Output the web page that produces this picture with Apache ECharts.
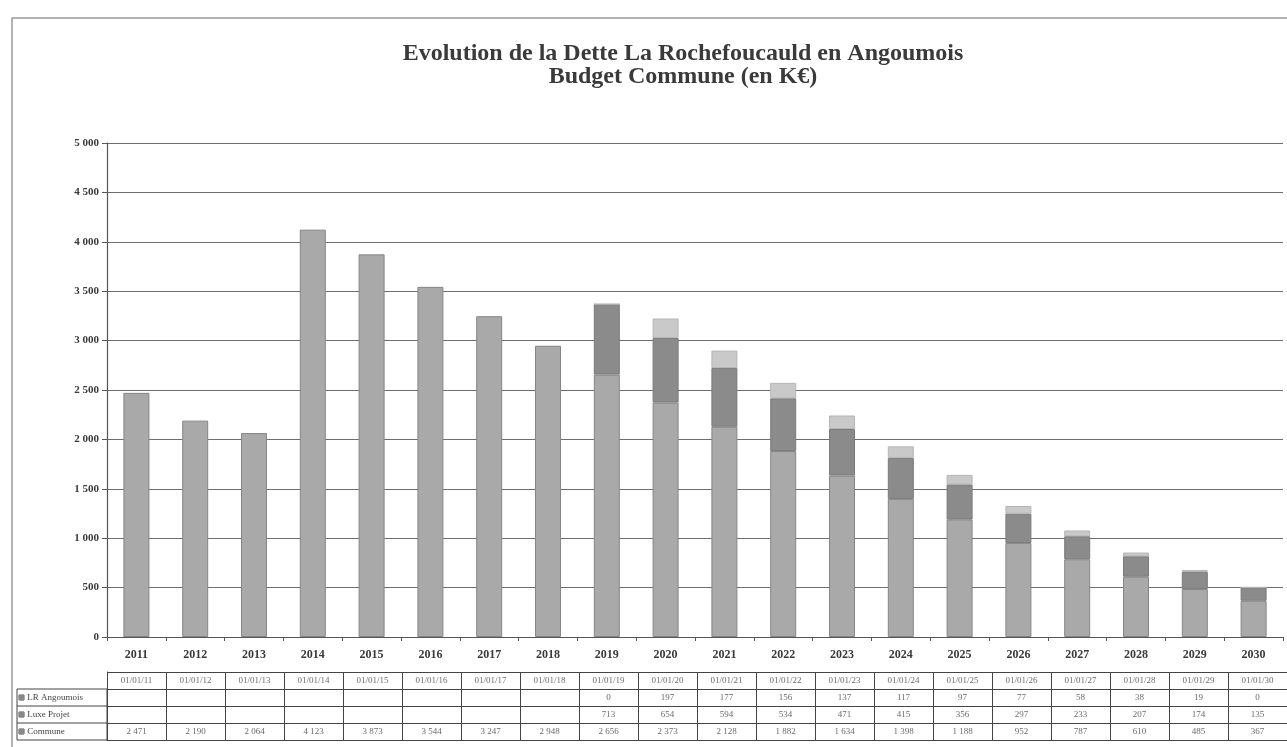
<!DOCTYPE html>
<html>
<head>
<meta charset="utf-8">
<script src="https://cdn.jsdelivr.net/npm/echarts@6/dist/echarts.min.js"></script>
<style>
html,body{margin:0;padding:0;background:#fff;}
#c{width:1287px;height:747px;}
</style>
</head>
<body>
<div id="c"></div>
<script>
const years = ['2011','2012','2013','2014','2015','2016','2017','2018','2019','2020','2021','2022','2023','2024','2025','2026','2027','2028','2029','2030'];
const dates = ['01/01/11','01/01/12','01/01/13','01/01/14','01/01/15','01/01/16','01/01/17','01/01/18','01/01/19','01/01/20','01/01/21','01/01/22','01/01/23','01/01/24','01/01/25','01/01/26','01/01/27','01/01/28','01/01/29','01/01/30'];
const commune = [2471, 2190, 2064, 4123, 3873, 3544, 3247, 2948, 2656, 2373, 2128, 1882, 1634, 1398, 1188, 952, 787, 610, 485, 367];
const luxeProjet = [null, null, null, null, null, null, null, null, 713, 654, 594, 534, 471, 415, 356, 297, 233, 207, 174, 135];
const lrAngoumois = [null, null, null, null, null, null, null, null, 0, 197, 177, 156, 137, 117, 97, 77, 58, 38, 19, 0];
const yTicks = [0, 500, 1000, 1500, 2000, 2500, 3000, 3500, 4000, 4500, 5000];
const tableRows = ['Commune', 'Luxe Projet', 'LR Angoumois', 'date'];

const colCommune = '#a9a9a9';
const colLuxe = '#8b8b8b';
const colLR = '#c9c9c9';

function fmt(v){
  if (v === null || v === undefined) return '';
  return String(v).replace(/\B(?=(\d{3})+(?!\d))/g, ' ');
}

const tableData = [];
years.forEach((y, i) => {
  tableData.push([i, 'date', dates[i]]);
  tableData.push([i, 'LR Angoumois', fmt(lrAngoumois[i])]);
  tableData.push([i, 'Luxe Projet', fmt(luxeProjet[i])]);
  tableData.push([i, 'Commune', fmt(commune[i])]);
});

const serif = 'Liberation Serif';
const chart = echarts.init(document.getElementById('c'));

chart.setOption({
  backgroundColor: '#ffffff',
  animation: false,
  title: {
    text: 'Evolution de la Dette La Rochefoucauld en Angoumois\nBudget Commune (en K€)',
    left: 678, top: 37, textAlign: 'center',
    textStyle: {fontFamily: serif, fontWeight: 'bold', fontSize: 24, lineHeight: 23, color: '#3a3a3a'}
  },
  grid: [
    {left: 107, right: 4, top: 143, bottom: 110, containLabel: false},
    {left: 107, right: 0, top: 672, bottom: 7, containLabel: false}
  ],
  xAxis: [
    {
      type: 'category', gridIndex: 0, data: years,
      axisLine: {show: true, lineStyle: {color: '#555', width: 1.2}},
      axisTick: {show: true, length: 4, alignWithLabel: false, lineStyle: {color: '#555'}},
      axisLabel: {fontFamily: serif, fontWeight: 'bold', fontSize: 12, color: '#3a3a3a', margin: 12}
    },
    {
      type: 'category', gridIndex: 1, data: years,
      axisLine: {show: true, lineStyle: {color: '#444'}},
      axisTick: {show: false},
      axisLabel: {show: false},
      splitLine: {show: true, interval: 0, lineStyle: {color: '#444', width: 1}}
    }
  ],
  yAxis: [
    {
      type: 'value', gridIndex: 0, min: 0, max: 5000, interval: 500,
      axisLine: {show: true, lineStyle: {color: '#555', width: 1.2}},
      axisTick: {show: true, length: 5, lineStyle: {color: '#555'}},
      axisLabel: {fontFamily: serif, fontWeight: 'bold', fontSize: 11, color: '#3a3a3a', margin: 8,
        formatter: v => yTicks.indexOf(v) >= 0 ? fmt(v) : ''},
      splitLine: {show: true, lineStyle: {color: '#6e6e6e', width: 1.2}}
    },
    {
      type: 'category', gridIndex: 1, data: tableRows,
      axisLine: {show: true, lineStyle: {color: '#444'}},
      axisTick: {show: false},
      splitLine: {show: true, interval: 0, lineStyle: {color: '#444', width: 1}},
      axisLabel: {
        margin: 88, align: 'left',
        formatter: v => v === 'date' ? '' : '{k|} {t|' + v + '}',
        rich: {
          k: {width: 5, height: 5, backgroundColor: '#888', borderColor: '#555', borderWidth: 0.5},
          t: {fontFamily: serif, fontSize: 9, color: '#444'}
        }
      }
    }
  ],
  graphic: [
    {type: 'rect', shape: {x: 12, y: 18, width: 1290, height: 740}, style: {fill: 'none', stroke: '#9a9a9a', lineWidth: 1.5}, silent: true, z: -1},
    {type: 'rect', shape: {x: 17, y: 689, width: 90, height: 51}, style: {fill: 'none', stroke: '#444', lineWidth: 1}, silent: true},
    {type: 'line', shape: {x1: 17, y1: 706, x2: 107, y2: 706}, style: {stroke: '#444', lineWidth: 1}, silent: true},
    {type: 'line', shape: {x1: 17, y1: 723, x2: 107, y2: 723}, style: {stroke: '#444', lineWidth: 1}, silent: true}
  ],
  series: [
    {
      name: 'Commune', type: 'bar', stack: 'dette', xAxisIndex: 0, yAxisIndex: 0,
      data: commune, barWidth: 26,
      itemStyle: {color: colCommune, borderColor: '#858585', borderWidth: 1}
    },
    {
      name: 'Luxe Projet', type: 'bar', stack: 'dette', xAxisIndex: 0, yAxisIndex: 0,
      data: luxeProjet, barWidth: 26,
      itemStyle: {color: colLuxe, borderColor: '#7a7a7a', borderWidth: 1}
    },
    {
      name: 'LR Angoumois', type: 'bar', stack: 'dette', xAxisIndex: 0, yAxisIndex: 0,
      data: lrAngoumois, barWidth: 26,
      itemStyle: {color: colLR, borderColor: '#b5b5b5', borderWidth: 1}
    },
    {
      name: 'table', type: 'scatter', xAxisIndex: 1, yAxisIndex: 1,
      data: tableData, symbolSize: 0, silent: true,
      label: {
        show: true, position: 'inside',
        formatter: p => p.data[2],
        fontFamily: serif, fontSize: 9, color: '#444'
      }
    }
  ]
});
</script>
</body>
</html>
